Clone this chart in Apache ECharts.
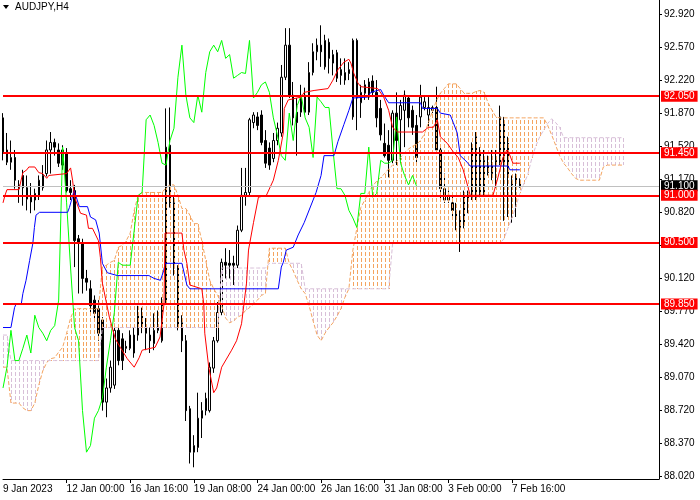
<!DOCTYPE html>
<html><head><meta charset="utf-8">
<script src="https://cdn.jsdelivr.net/npm/echarts@6/dist/echarts.min.js"></script>
<style>html,body{margin:0;padding:0;background:#fff}#c{width:700px;height:500px}</style>
</head><body><div id="c"></div>
<script>
// ---- DATA (AUDJPY H4, from 9 Jan 2023 08:00) ----
const opens = [91.82,91.35,91.35,91.40,91.07,91.21,91.08,90.98,90.95,91.00,
91.08,91.23,91.48,91.56,91.48,91.48,91.45,91.07,91.05,90.54,
90.50,90.12,90.01,89.89,89.80,89.68,88.81,88.96,88.99,89.57,
89.48,89.40,89.38,89.52,89.52,89.73,89.60,89.52,89.43,89.57,
89.46,89.89,91.53,90.92,90.23,89.65,89.46,88.74,88.28,88.33,
88.64,88.72,88.72,89.17,89.46,89.76,90.29,90.28,90.28,90.26,
90.63,91.00,91.03,91.77,91.83,91.85,91.58,91.50,91.39,91.58,
91.66,92.25,92.59,92.06,91.88,91.88,92.06,91.88,92.30,92.52,
92.59,92.36,92.62,92.40,92.51,92.33,92.22,92.33,91.83,92.64,
91.98,92.08,92.04,92.21,92.09,91.92,91.55,91.53,91.37,91.87,
91.80,91.90,92.03,91.90,91.74,91.83,91.93,91.85,91.90,91.93,
91.48,90.95,90.95,90.92,90.84,90.76,90.68,90.95,90.98,91.62,
91.45,91.02,91.24,91.23,91.32,91.34,91.76,91.55,91.16,91.14,
91.16];
const closes = [91.46,91.48,91.40,91.16,91.11,91.08,90.96,90.93,91.02,91.16,
91.21,91.48,91.56,91.51,91.34,91.32,91.05,91.03,90.52,90.50,
90.12,90.08,89.83,89.75,89.54,88.81,88.96,89.18,89.57,89.25,
89.25,89.38,89.52,89.33,89.73,89.60,89.54,89.46,89.57,89.62,
89.89,91.51,90.92,90.23,89.60,89.46,88.72,88.28,88.35,88.64,
88.72,88.85,89.18,89.46,89.76,90.29,90.26,90.26,90.26,90.63,
91.00,91.03,91.80,91.85,91.74,91.56,91.34,91.32,91.58,91.71,
92.25,92.59,92.06,91.82,91.77,92.06,91.88,92.30,92.52,92.59,
92.52,92.64,92.45,92.49,92.24,92.27,92.30,92.29,92.64,92.03,
92.09,92.17,92.20,92.09,91.82,91.64,91.42,91.37,91.87,91.58,
91.95,92.06,91.82,91.72,91.40,92.04,91.99,91.93,91.93,91.48,
91.07,91.07,91.00,90.84,90.76,90.66,91.02,91.02,91.51,90.98,
91.02,91.37,91.34,91.34,91.37,91.83,91.34,91.21,91.11,91.21,
91.10];
const lows = [91.37,91.32,91.27,91.07,90.92,90.89,90.84,90.81,90.84,90.95,
91.05,91.20,91.23,91.42,91.30,91.27,91.03,90.95,90.24,89.96,
89.96,89.99,89.75,89.68,89.46,88.72,88.65,88.91,88.95,89.20,
89.15,89.33,89.36,89.28,89.46,89.54,89.36,89.33,89.36,89.54,
89.44,89.86,90.87,90.15,89.57,89.34,88.61,88.16,88.12,88.28,
88.43,88.67,88.70,89.12,89.44,89.73,90.12,90.12,90.05,90.23,
90.61,90.89,91.00,91.71,91.69,91.53,91.29,91.27,91.35,91.53,
91.62,92.22,92.03,91.74,91.42,91.83,91.85,91.85,92.27,92.43,
92.36,92.33,92.29,92.27,92.20,92.17,92.17,92.22,91.80,91.69,
91.82,92.01,92.01,92.04,91.72,91.58,91.40,91.19,91.34,91.32,
91.37,91.51,91.72,91.64,91.34,91.72,91.90,91.72,91.87,91.45,
90.95,90.92,90.92,90.77,90.63,90.40,90.65,90.81,90.95,90.95,
90.98,91.00,91.21,91.16,91.08,91.32,90.73,90.77,90.71,90.77,
91.08];
const highs = [91.87,91.66,91.58,91.48,91.16,91.27,91.21,91.13,91.07,91.21,
91.32,91.58,91.67,91.60,91.55,91.53,91.50,91.16,91.11,90.58,
90.54,90.21,90.10,89.94,89.89,89.71,89.06,89.25,89.64,89.62,
89.54,89.46,89.57,89.60,89.83,89.81,89.70,89.60,89.75,89.78,
89.92,91.92,91.93,91.00,90.26,89.73,89.52,88.77,88.46,88.91,
88.81,88.91,89.23,89.50,89.87,90.33,90.44,90.42,90.36,90.68,
91.29,91.29,91.82,91.88,91.88,91.90,91.69,91.56,91.66,91.77,
92.38,92.77,92.77,92.20,92.03,92.17,92.14,92.41,92.61,92.66,
92.80,92.70,92.66,92.54,92.54,92.45,92.45,92.41,92.66,92.66,
92.17,92.22,92.24,92.27,92.22,92.01,91.76,91.69,91.90,92.09,
92.01,92.11,92.06,91.95,91.85,92.17,92.04,92.04,91.95,92.15,
91.53,91.23,91.05,91.00,90.92,90.84,91.05,91.05,91.56,91.67,
91.51,91.48,91.42,91.48,91.48,91.95,91.83,91.62,91.21,91.23,
91.18];

// Ichimoku lines: [bar position, price]
const tenkan = [[0,90.92],[0.5,91.00],[1,91.06],[4,91.06],[5,91.24],[6,91.27],[6.5,91.30],[8,91.30],[8.5,91.29],[9,91.24],[10,91.23],[11,91.18],[11.5,91.21],[12,91.23],[16,91.23],[17,91.29],[17.5,91.16],[18,90.98],[19.5,90.81],[21,90.79],[21.5,90.65],[22.5,90.65],[24,90.52],[24.5,90.34],[25,90.07],[26.75,89.71],[28.25,89.48],[29.5,89.39],[31.25,89.27],[33,89.18],[34.25,89.28],[35,89.36],[38.25,89.39],[39.5,89.50],[40.5,89.85],[40.75,90.60],[45,90.60],[45.5,90.42],[46.25,90.28],[47,90.05],[50,90.01],[50.5,89.85],[50.75,89.54],[51.75,89.18],[53,88.91],[53.75,88.96],[55,89.18],[57.5,89.36],[58.75,89.46],[60,89.64],[61.25,90.07],[61.75,90.42],[63,90.71],[64.25,90.98],[66.25,91.00],[68,91.16],[69.25,91.37],[70.5,91.66],[70.75,91.92],[71.75,92.01],[75,92.04],[75.75,92.09],[78.25,92.11],[81.75,92.13],[83,92.22],[84.25,92.33],[85.75,92.41],[87,92.44],[87.5,92.40],[88.25,92.29],[89.25,92.19],[90,92.15],[94.25,92.13],[95.75,92.04],[97,91.90],[98,91.72],[99.25,91.67],[105.5,91.67],[107,91.72],[108.25,91.72],[109.25,91.80],[110,91.62],[111.75,91.55],[113.25,91.46],[114.5,91.40],[115.75,91.27],[117,91.08],[117.5,91.00],[123.25,91.00],[124.5,91.19],[125.75,91.40],[126.75,91.48],[127.25,91.45],[128.25,91.34],[130,91.34]];
const kijun = [[0,89.60],[2,89.60],[2.9,89.81],[3.3,89.85],[4.6,89.85],[5,89.96],[5.8,90.10],[6.7,90.31],[7.5,90.49],[7.9,90.66],[8.3,90.79],[9.2,90.82],[16.25,90.82],[16.7,90.87],[17.9,91.05],[18.3,91.03],[19.2,90.88],[21.25,90.88],[22,90.77],[23.3,90.74],[24.2,90.60],[25,90.28],[26.25,90.18],[28.75,90.15],[36.7,90.15],[38,90.12],[39.6,90.10],[40.4,90.20],[40.8,90.28],[45,90.28],[46.25,90.05],[47,90.01],[69.25,90.01],[70,90.24],[70.5,90.29],[71.25,90.42],[73,90.45],[74.25,90.58],[75.75,90.71],[78,90.95],[78.75,91.03],[80,91.21],[80.75,91.42],[83.25,91.42],[84.25,91.57],[85.75,91.75],[87,91.90],[88,92.03],[91.75,92.04],[92.5,92.09],[95,92.12],[95.75,92.06],[97,91.98],[105,91.98],[105.5,91.92],[109.25,91.92],[110,91.87],[112.5,91.85],[113.25,91.77],[114.25,91.66],[115,91.42],[116.75,91.35],[117.5,91.31],[127,91.31],[127.5,91.27],[130,91.27]];
const spanA = [89.18,89.18,88.80,88.80,88.80,88.75,88.72,88.72,88.80,88.99,
89.14,89.23,89.27,89.28,89.34,89.39,89.54,89.70,89.80,89.80,
89.80,89.80,89.80,89.80,89.80,90.24,90.26,90.29,90.31,90.45,
90.47,90.52,90.60,90.84,91.00,91.03,91.03,91.03,91.03,91.03,
91.03,91.08,91.11,91.11,91.00,90.86,90.86,90.79,90.70,90.70,
90.52,90.31,90.10,90.01,89.94,89.83,89.70,89.65,89.67,89.71,
89.73,89.78,89.81,89.85,89.89,89.94,89.96,90.44,90.44,90.44,
90.44,90.44,90.28,90.20,90.10,90.01,89.96,89.83,89.67,89.52,
89.46,89.54,89.60,89.65,89.72,89.80,89.92,90.01,90.42,90.65,
90.87,90.95,91.03,91.10,91.15,91.19,91.23,91.28,91.32,91.36,
91.40,91.45,91.49,91.52,91.54,91.58,91.65,91.77,91.89,92.00,
92.08,92.13,92.18,92.18,92.18,92.13,92.08,92.08,92.08,92.10,
92.11,92.09,91.98,91.90,91.83,91.82,91.82,91.82,91.82,91.82,
91.82,91.82,91.82,91.82,91.82,91.82,91.82,91.74,91.64,91.53,
91.42,91.34,91.29,91.23,91.18,91.16,91.16,91.16,91.16,91.16,
91.16,91.30,91.32,91.32,91.32,91.32,91.32];
const spanB = [89.52,89.52,89.25,89.25,89.25,89.25,89.25,89.25,89.25,89.25,
89.25,89.25,89.25,89.25,89.25,89.25,89.25,89.25,89.25,89.25,
89.25,89.25,89.25,89.25,89.25,89.60,89.60,89.60,89.60,89.60,
89.60,89.60,89.60,89.60,89.60,89.60,89.60,89.60,89.60,89.60,
89.60,89.60,89.60,89.60,89.60,89.60,89.60,89.60,89.60,89.60,
89.60,89.60,89.60,89.60,89.60,90.23,90.23,90.23,90.23,90.23,
90.23,90.23,90.23,90.23,90.23,90.23,90.23,90.28,90.28,90.28,
90.28,90.28,90.28,90.28,90.28,90.28,90.01,90.01,90.01,90.01,
90.01,90.01,90.01,90.01,90.01,90.01,90.01,90.01,90.01,90.01,
90.01,90.01,90.01,90.01,90.01,90.01,90.01,90.01,90.49,90.49,
90.49,90.49,90.49,90.49,90.49,90.49,90.49,90.49,90.49,90.49,
90.49,90.49,90.49,90.49,90.49,90.49,90.49,90.49,90.49,90.49,
90.49,90.49,90.49,90.49,90.49,90.49,90.54,90.65,90.76,90.88,
91.02,91.12,91.22,91.39,91.52,91.62,91.69,91.76,91.81,91.77,
91.72,91.61,91.61,91.61,91.61,91.61,91.61,91.61,91.61,91.61,
91.61,91.61,91.61,91.61,91.61,91.61,91.61];
const levels = [92.05, 91.45, 91.00, 90.50, 89.85];
const bid = 91.10;
const yTicks = [88.02,88.37,88.72,89.07,89.42,89.77,90.12,90.47,90.82,91.17,91.52,91.87,92.22,92.57,92.92];
const xLabelIdx = [0,16,32,48,64,80,96,112,128];
const xLabelText = ['9 Jan 2023','12 Jan 00:00','16 Jan 16:00','19 Jan 08:00','24 Jan 00:00','26 Jan 16:00','31 Jan 08:00','3 Feb 00:00','7 Feb 16:00'];
const SLOTS = 166;
const CHIKOU_SHIFT = 26;

// ---- BUILD ----
const FONT = 'Liberation Sans';
const cats = Array.from({length: SLOTS}, (_, i) => String(i));
const candleData = opens.map((o, i) => [o, closes[i], lows[i], highs[i]]);
const chikou = closes.slice(CHIKOU_SHIFT);
const cloudData = spanA.map((a, i) => [i, a, spanB[i]]);

const chart = echarts.init(document.getElementById('c'), null, {renderer: 'canvas'});
chart.setOption({
  animation: false,
  backgroundColor: '#ffffff',
  textStyle: {fontFamily: FONT},
  graphic: [
    {type: 'polygon', shape: {points: [[3,5],[9,5],[6,9]]}, style: {fill: '#000'}},
    {type: 'text', left: 15, top: 2, style: {text: 'AUDJPY,H4', fontSize: 10, fontFamily: FONT, fill: '#000'}}
  ],
  grid: {left: 0, top: 0, width: 659, height: 479, containLabel: false},
  xAxis: [{
    type: 'category', data: cats, boundaryGap: false,
    axisLine: {onZero: false, lineStyle: {color: '#000', width: 1}},
    axisTick: {show: true, length: 4, lineStyle: {color: '#000'},
      interval: (i) => xLabelIdx.indexOf(i) > 0},
    axisLabel: {interval: (i) => xLabelIdx.indexOf(i) >= 0,
      formatter: (v, i) => { const k = xLabelIdx.indexOf(i); return k >= 0 ? xLabelText[k] : ''; },
      align: 'left', margin: 5, fontSize: 10, color: '#000', fontFamily: FONT},
    splitLine: {show: false}
  }, {
    type: 'value', min: 0, max: SLOTS - 1, show: false, gridIndex: 0
  }],
  yAxis: [{
    type: 'value', position: 'right', min: 87.996, max: 93.068, scale: true,
    axisLine: {show: true, onZero: false, lineStyle: {color: '#000', width: 1}},
    axisTick: {show: true, inside: false, length: 3, lineStyle: {color: '#000'}, customValues: yTicks},
    axisLabel: {customValues: yTicks, formatter: (v) => Number(v).toFixed(3), margin: 5,
      fontSize: 10, color: '#000', fontFamily: FONT},
    splitLine: {show: false}
  }],
  series: [
    {
      type: 'candlestick', name: 'AUDJPY', data: candleData, barWidth: 2, z: 2,
      itemStyle: {color: '#ffffff', color0: '#000000', borderColor: '#000000', borderColor0: '#000000', borderWidth: 1}
    },
    {
      type: 'custom', name: 'cloud', data: cloudData, z: 3, clip: true,
      encode: {x: 0, y: [1, 2]},
      renderItem: (params, api) => {
        const i = params.dataIndex;
        const a = spanA[i], b = spanB[i];
        const pa = api.coord([i, a]), pb = api.coord([i, b]);
        const x = Math.round(pa[0]) + 0.5;
        const top = Math.round(Math.min(pa[1], pb[1])), bot = Math.round(Math.max(pa[1], pb[1]));
        return {type: 'line', shape: {x1: x, y1: top, x2: x, y2: bot},
          style: {stroke: a >= b ? '#F4A460' : '#D8BFD8', lineWidth: 1, lineDash: [4, 2], lineDashOffset: top % 6}};
      }
    },
    {type: 'line', name: 'Senkou A', data: spanA, z: 3, symbol: 'none', lineStyle: {color: '#F4A460', width: 1, type: [4, 2]}},
    {type: 'line', name: 'Senkou B', data: spanB, z: 3, symbol: 'none', lineStyle: {color: '#D8BFD8', width: 1, type: [4, 2]}},
    {type: 'line', name: 'Chikou', data: chikou, z: 4, symbol: 'none', lineStyle: {color: '#00FF00', width: 1}},
    {type: 'line', name: 'Kijun', xAxisIndex: 1, data: kijun, z: 4, symbol: 'none', lineStyle: {color: '#0000FF', width: 1}},
    {type: 'line', name: 'Tenkan', xAxisIndex: 1, data: tenkan, z: 4, symbol: 'none', lineStyle: {color: '#FF0000', width: 1}},
    {
      type: 'line', name: 'levels', xAxisIndex: 1, data: [[0, bid]], z: 6, symbol: 'none', lineStyle: {opacity: 0},
      markLine: {
        silent: true, symbol: 'none', animation: false,
        data: [
          {yAxis: bid, lineStyle: {color: '#C0C0C0', width: 1, type: 'solid'},
           label: {backgroundColor: '#000', color: '#fff'}},
          ...levels.map(v => ({yAxis: v, lineStyle: {color: '#FF0000', width: 2, type: 'solid'},
           label: {backgroundColor: '#FF0000', color: '#fff'}}))
        ],
        label: {position: 'end', distance: 2, formatter: (p) => Number(p.value).toFixed(3),
          fontSize: 10, fontFamily: FONT, padding: [1, 3, 0, 3]}
      }
    }
  ]
});
</script></body></html>
